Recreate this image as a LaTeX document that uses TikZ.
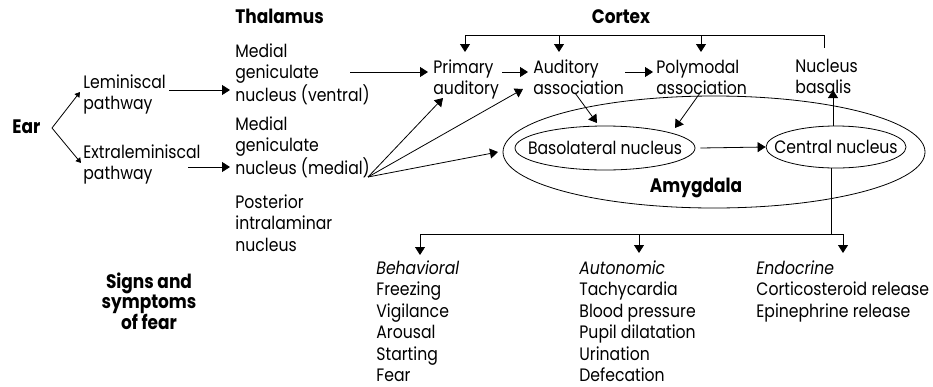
\documentclass[tikz,border=0pt]{standalone}
\usepackage{fontspec}
\setmainfont{Poppins}[FakeStretch=0.87]
\usetikzlibrary{arrows.meta,shapes.geometric}
\newcommand\reg{\fontsize{18}{21.4}\selectfont}
\newcommand\bld{\fontsize{19.5}{20.5}\selectfont\bfseries}
\newcommand\fl{\rule{0pt}{15pt}}
\begin{document}
\begin{tikzpicture}[x=1pt,y=-1pt,line width=0.8pt,
  arr/.style={-{Triangle[length=8pt,width=10pt]}},
  sarr/.style={-{Triangle[length=5pt,width=6pt]}},
  txt/.style={anchor=north west,inner sep=0pt,align=left,font=\reg},
  btxt/.style={anchor=base west,inner sep=0pt,font=\bld},
  ellbox/.style={draw,ellipse,inner sep=0pt}]
\useasboundingbox[fill=white] (0,0) rectangle (933,386);

% headings
\node[btxt] (ear) at (12,133) {Ear};
\node[btxt] (thal) at (235,23) {Thalamus};
\node[btxt,anchor=base] (cortex) at (621,23) {Cortex};
\node[anchor=north,inner sep=0pt,align=center,font=\bld] (signs) at (149,272) {\fl Signs and\\symptoms\\of fear};

% text nodes
\node[txt] (lem) at (83,73) {\fl Leminiscal\\pathway};
\node[txt] (ext) at (83,143) {\fl Extraleminiscal\\pathway};
\node[txt] (mgnv) at (235,42) {\fl Medial\\geniculate\\nucleus (ventral)};
\node[txt] (mgnm) at (235,115) {\fl Medial\\geniculate\\nucleus (medial)};
\node[txt] (pin) at (235,193) {\fl Posterior\\intralaminar\\nucleus};
\node[txt] (prim) at (433,58) {\fl Primary\\auditory};
\node[txt] (aud) at (533,58) {\fl Auditory\\association};
\node[txt] (poly) at (656,58) {\fl Polymodal\\association};
\node[txt] (nb) at (795,57) {\fl Nucleus\\basalis};

% amygdala
\node[ellbox,minimum width=422pt,minimum height=112pt] (amyg) at (714,152) {};
\node[ellbox,minimum width=180pt,minimum height=44pt] (baso) at (605,148) {};
\node[font=\reg,inner sep=0pt] (basot) at (baso.center) {Basolateral nucleus};
\node[ellbox,minimum width=140pt,minimum height=42pt] (cent) at (836,147) {};
\node[font=\reg,inner sep=0pt] (centt) at (cent.center) {Central nucleus};
\node[btxt,anchor=base] (amyl) at (696,192) {Amygdala};

% outputs
\node[txt] (beh) at (376,259) {\fl\itshape Behavioral\\Freezing\\Vigilance\\Arousal\\Starting\\Fear};
\node[txt] (aut) at (579,259) {\fl\itshape Autonomic\\Tachycardia\\Blood pressure\\Pupil dilatation\\Urination\\Defecation};
\node[txt] (endo) at (756,259) {\fl\itshape Endocrine\\Corticosteroid release\\Epinephrine release};

% ear fork
\coordinate (earfork) at (52,128);
\coordinate (eu) at (80,92);
\coordinate (ed) at (81,163);
\draw[sarr] (earfork) -- (eu);
\draw[sarr] (earfork) -- (ed);

% pathway to thalamus
\coordinate (l1) at (169,90); \coordinate (l2) at (230,90);
\draw[arr] (l1) -- (l2);
\coordinate (x1) at (188,167); \coordinate (x2) at (230,167);
\draw[arr] (x1) -- (x2);

% thalamus to cortex
\coordinate (v1) at (350,72); \coordinate (v2) at (428,72);
\draw[arr] (v1) -- (v2);
\coordinate (p1) at (502,72); \coordinate (p2) at (528,72);
\draw[arr] (p1) -- (p2);
\coordinate (a1) at (625,72); \coordinate (a2) at (653,72);
\draw[arr] (a1) -- (a2);

% fan from medial MGN
\coordinate (fan) at (368,177);
\coordinate (f1) at (443,98);
\coordinate (f2) at (523,89);
\coordinate (f3) at (498,152);
\draw[arr] (fan) -- (f1);
\draw[arr] (fan) -- (f2);
\draw[arr] (fan) -- (f3);

% cortex to basolateral
\coordinate (ab1) at (575,93); \coordinate (ab2) at (597,123);
\draw[arr] (ab1) -- (ab2);
\coordinate (pb1) at (700,93); \coordinate (pb2) at (675,128);
\draw[arr] (pb1) -- (pb2);

% basolateral to central
\draw[arr] ([xshift=5pt]baso.east) -- (cent.west);

% central to nucleus basalis
\coordinate (nbt) at (833,90);
\draw[arr] (cent.north -| nbt) -- (nbt);

% cortex bracket
\coordinate (cL) at (465,35); \coordinate (cM) at (559,35);
\coordinate (cN) at (701,35); \coordinate (cR) at (824,35);
\coordinate (cE) at (824,48);
\draw (cL) -- (cR) -- (cE);
\draw[arr] (cL) -- (465,52);
\draw[arr] (cM) -- (559,52);
\draw[arr] (cN) -- (701,52);

% output bracket
\coordinate (bL) at (420,234); \coordinate (bM) at (639,234);
\coordinate (bJ) at (831,234); \coordinate (bR) at (843,234);
\draw (cent.south -| bJ) -- (bJ);
\draw (bL) -- (bR);
\draw[arr] (bL) -- (420,255);
\draw[arr] (bM) -- (639,253);
\draw[arr] (bR) -- (843,253);
\end{tikzpicture}
\end{document}
